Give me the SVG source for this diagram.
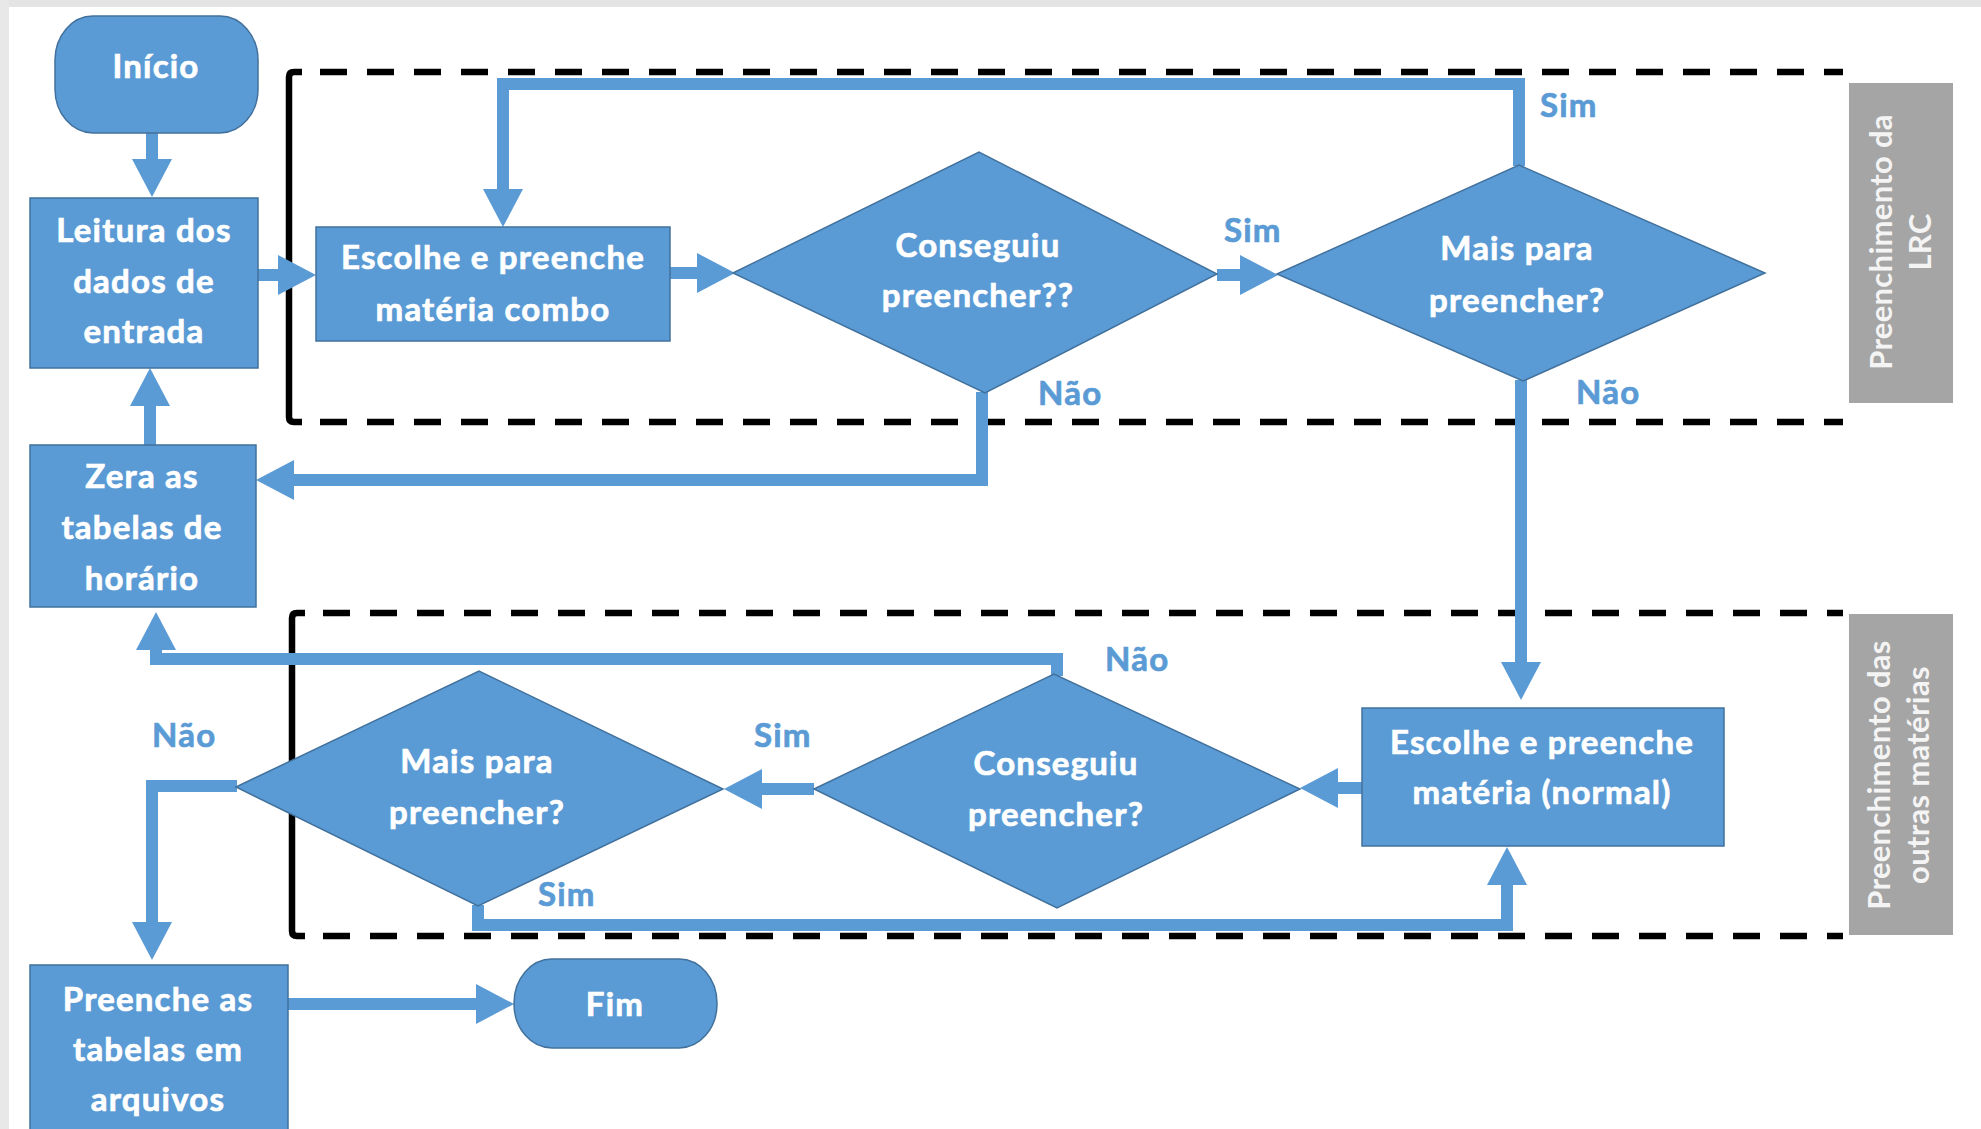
<svg xmlns="http://www.w3.org/2000/svg" width="1981" height="1129" viewBox="0 0 1981 1129">
<style>
.node{fill:#5B9BD5;stroke:#41719C;stroke-width:1.5}
.t{font-family:Lato,"Liberation Sans",sans-serif;font-weight:bold;font-size:33px;letter-spacing:1.2px;fill:#FFFFFF;stroke:#FFFFFF;stroke-width:0.7px;text-anchor:middle}
.lbl{font-family:Lato,"Liberation Sans",sans-serif;font-weight:bold;font-size:33px;letter-spacing:1.2px;fill:#5B9BD5;stroke:#5B9BD5;stroke-width:0.7px}
.conn{fill:none;stroke:#5B9BD5;stroke-width:12;stroke-linejoin:miter;stroke-linecap:butt}
.dash{fill:none;stroke:#000;stroke-width:6.5;stroke-dasharray:27 20}
.solid{fill:none;stroke:#000;stroke-width:6.5;stroke-linejoin:round}
.side{fill:#A5A5A5}
.st{font-family:Lato,"Liberation Sans",sans-serif;font-weight:bold;font-size:31px;letter-spacing:0.3px;fill:#F4F4F4;text-anchor:middle}
</style>
<defs>
<marker id="ah" viewBox="0 0 38 40" markerUnits="userSpaceOnUse" markerWidth="38" markerHeight="40" refX="0" refY="20" orient="auto">
<path d="M0,0 L38,20 L0,40 Z" fill="#5B9BD5"/>
</marker>
</defs>
<rect x="0" y="0" width="1981" height="1129" fill="#FFFFFF"/>
<rect x="0" y="0" width="1981" height="7" fill="#E4E4E4"/>
<rect x="0" y="0" width="9" height="1129" fill="#E8E8E8"/>

<g id="lanes">
<g id="lane-lrc">
<path class="solid" d="M302,72 H294 Q289,72 289,77 V417 Q289,422 294,422 H302"/>
<line class="dash" x1="320" y1="72" x2="1843" y2="72"/>
<line class="dash" x1="320" y1="422" x2="1843" y2="422"/>
<rect class="side" x="1849" y="83" width="104" height="320"/>
<text class="st" transform="translate(1892,242) rotate(-90)">Preenchimento da</text>
<text class="st" transform="translate(1931,242) rotate(-90)">LRC</text>
</g>
<g id="lane-outras">
<path class="solid" d="M305,613 H297 Q292,613 292,618 V931 Q292,936 297,936 H305"/>
<line class="dash" x1="323" y1="613" x2="1843" y2="613"/>
<line class="dash" x1="323" y1="936" x2="1843" y2="936"/>
<rect class="side" x="1849" y="614" width="104" height="321"/>
<text class="st" transform="translate(1890,775) rotate(-90)">Preenchimento das</text>
<text class="st" transform="translate(1929,775) rotate(-90)">outras matérias</text>
</g>
</g>

<g id="connectors">
<path class="conn" d="M152,133 V159" marker-end="url(#ah)"/>
<path class="conn" d="M258,275 H278" marker-end="url(#ah)"/>
<path class="conn" d="M670,273 H697" marker-end="url(#ah)"/>
<path class="conn" d="M1217,275 H1240" marker-end="url(#ah)"/>
<path class="conn" d="M1519,166 V84 H503 V189" marker-end="url(#ah)"/>
<path class="conn" d="M1521,380 V662" marker-end="url(#ah)"/>
<path class="conn" d="M982,392 V480 H294" marker-end="url(#ah)"/>
<path class="conn" d="M150,445 V406" marker-end="url(#ah)"/>
<path class="conn" d="M1362,788 H1338" marker-end="url(#ah)"/>
<path class="conn" d="M814,789 H762" marker-end="url(#ah)"/>
<path class="conn" d="M1057,676 V659 H156 V650" marker-end="url(#ah)"/>
<path class="conn" d="M237,786 H152 V922" marker-end="url(#ah)"/>
<path class="conn" d="M478,905 V925 H1507 V885" marker-end="url(#ah)"/>
<path class="conn" d="M288,1004 H476" marker-end="url(#ah)"/>
<g id="edge-labels">
<text class="lbl" x="1540" y="117">Sim</text>
<text class="lbl" x="1224" y="242">Sim</text>
<text class="lbl" x="1038" y="405">Não</text>
<text class="lbl" x="1576" y="404">Não</text>
<text class="lbl" x="1105" y="671">Não</text>
<text class="lbl" x="754" y="747">Sim</text>
<text class="lbl" x="152" y="747">Não</text>
<text class="lbl" x="538" y="906">Sim</text>
</g>
</g>

<g id="inicio">
<rect class="node" x="55" y="16" width="203" height="117" rx="38" ry="44"/>
<text class="t" x="156" y="78">Início</text>
</g>
<g id="leitura">
<rect class="node" x="30" y="198" width="228" height="170"/>
<text class="t" x="144" y="242">Leitura dos</text>
<text class="t" x="144" y="293">dados de</text>
<text class="t" x="144" y="343">entrada</text>
</g>
<g id="escolhe-combo">
<rect class="node" x="316" y="227" width="354" height="114"/>
<text class="t" x="493" y="269">Escolhe e preenche</text>
<text class="t" x="493" y="321">matéria combo</text>
</g>
<g id="conseguiu-1">
<polygon class="node" points="733,273 979,152 1217,274 985,393"/>
<text class="t" x="978" y="257">Conseguiu</text>
<text class="t" x="978" y="307">preencher??</text>
</g>
<g id="mais-1">
<polygon class="node" points="1277,274 1519,165 1765,273 1523,381"/>
<text class="t" x="1517" y="260">Mais para</text>
<text class="t" x="1517" y="312">preencher?</text>
</g>
<g id="zera">
<rect class="node" x="30" y="445" width="226" height="162"/>
<text class="t" x="142" y="488">Zera as</text>
<text class="t" x="142" y="539">tabelas de</text>
<text class="t" x="142" y="590">horário</text>
</g>
<g id="escolhe-normal">
<rect class="node" x="1362" y="708" width="362" height="138"/>
<text class="t" x="1542" y="754">Escolhe e preenche</text>
<text class="t" x="1542" y="804">matéria (normal)</text>
</g>
<g id="conseguiu-2">
<polygon class="node" points="814,789 1054,674 1300,789 1057,908"/>
<text class="t" x="1056" y="775">Conseguiu</text>
<text class="t" x="1056" y="826">preencher?</text>
</g>
<g id="mais-2">
<polygon class="node" points="236,787 479,671 723,789 478,906"/>
<text class="t" x="477" y="773">Mais para</text>
<text class="t" x="477" y="824">preencher?</text>
</g>
<g id="preenche">
<rect class="node" x="30" y="965" width="258" height="175"/>
<text class="t" x="158" y="1011">Preenche as</text>
<text class="t" x="158" y="1061">tabelas em</text>
<text class="t" x="158" y="1111">arquivos</text>
</g>
<g id="fim">
<rect class="node" x="514" y="959" width="203" height="89" rx="38" ry="44"/>
<text class="t" x="615" y="1016">Fim</text>
</g>
</svg>
